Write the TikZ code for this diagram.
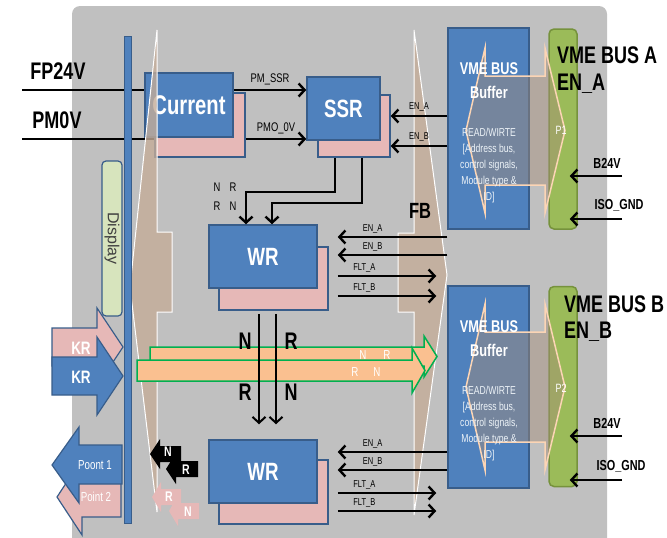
\documentclass[tikz,border=0pt]{standalone}
\usepackage{fontspec}
\setmainfont[FakeStretch=0.75]{Liberation Sans}
\newfontfamily\plainsans{Liberation Sans}
\usetikzlibrary{arrows.meta,calc,backgrounds}

\definecolor{bgGray}{RGB}{192,192,192}
\definecolor{boxBlue}{RGB}{79,129,189}
\definecolor{boxEdge}{RGB}{56,93,138}
\definecolor{shadePink}{RGB}{230,184,183}
\definecolor{busTan}{RGB}{196,172,152}
\definecolor{busShade}{RGB}{165,140,120}
\definecolor{peach}{RGB}{252,213,181}
\definecolor{barOrange}{RGB}{250,192,144}
\definecolor{barGreen}{RGB}{0,176,80}
\definecolor{dispGreen}{RGB}{215,228,189}
\definecolor{pGreen}{RGB}{155,187,89}
\definecolor{pEdge}{RGB}{118,146,60}

\newcommand\fsz[1]{\fontsize{#1}{#1}\selectfont}

\tikzset{
  blkbox/.style={fill=boxBlue, draw=boxEdge, line width=1.5pt, text=white, inner sep=0pt, font=\fsz{25}\bfseries},
  shadebox/.style={fill=shadePink, draw=boxEdge, line width=1.5pt, inner sep=0pt},
  pbox/.style={fill=pGreen, draw=pEdge, line width=1.5pt, rounded corners=5pt, minimum width=28pt, minimum height=200pt},
  dispbox/.style={fill=dispGreen, draw=boxEdge, line width=1.2pt, rounded corners=4pt, text=black!75, font=\plainsans\fsz{16}},
  busarrow/.style={draw=peach, line width=1.5pt, fill=busShade, fill opacity=0.45},
  tanshape/.style={draw=white, line width=1pt, fill=busTan, fill opacity=0.8},
  bar/.style={fill=barOrange, draw=barGreen, line width=1.5pt},
  bluearrow/.style={fill=boxBlue, draw=boxEdge, line width=1.2pt},
  pinkarrow/.style={fill=shadePink, draw=boxEdge, line width=1.2pt},
  wire/.style={line width=2.4pt},
  sig/.style={wire, -{Straight Barb[length=6pt,width=13pt]}},
  tag/.style={font=\fsz{10}, inner sep=1pt},
  midtag/.style={font=\fsz{12.5}, inner sep=1pt},
  bigtag/.style={font=\fsz{24}\bfseries, inner sep=0pt},
  titletag/.style={font=\fsz{24}\bfseries, inner sep=0pt},
  pintag/.style={font=\fsz{14.5}\bfseries, inner sep=0pt},
  whitetag/.style={text=white, inner sep=0pt},
  bustitle/.style={whitetag, align=center, font=\fontsize{17}{24}\selectfont\bfseries},
  busnote/.style={whitetag, text=white!90!boxBlue, align=center, font=\fontsize{11.5}{16}\selectfont}
}

\begin{document}
\begin{tikzpicture}[x=1pt,y=-1pt]
  \useasboundingbox (0,0) rectangle (667,538);

  % blocks
  \node[shadebox, minimum width=90pt, minimum height=64pt] (curs) at (200,125) {};
  \node[blkbox, minimum width=88pt, minimum height=64pt, font=\fsz{27}\bfseries] (cur) at (189,105) {Current};
  \node[shadebox, minimum width=72pt, minimum height=62pt] (ssrs) at (354,126) {};
  \node[blkbox, minimum width=73pt, minimum height=63pt] (ssr) at (343.5,108.5) {SSR};
  \node[shadebox, minimum width=109pt, minimum height=63pt] (wr1s) at (273.5,278.5) {};
  \node[blkbox, minimum width=108pt, minimum height=63pt] (wr1) at (263,256.5) {WR};
  \node[shadebox, minimum width=109pt, minimum height=64pt] (wr2s) at (273.5,492) {};
  \node[blkbox, minimum width=108pt, minimum height=63pt] (wr2) at (263,471.5) {WR};

  % VME buffers and connectors
  \node[blkbox, minimum width=81pt, minimum height=201pt] (bufA) at (488.5,128.5) {};
  \node[blkbox, minimum width=81pt, minimum height=202pt] (bufB) at (488.5,387) {};
  \node[pbox] (p1) at (563,129) {};
  \node[pbox] (p2) at (563,386.5) {};

  \coordinate (fp) at (22,90);
  \coordinate (pm) at (22,139);
  \begin{scope}[on background layer]
    \fill[bgGray, rounded corners=8pt] (72,6) rectangle (607,552);
    \draw[wire] (fp) -- (fp -| cur.west);
    \draw[wire] (pm) -- (pm -| curs.west);
  \end{scope}

  \draw[tanshape] (157,30) -- (130,287) -- (157,512) -- (157,312) -- (172,312) -- (172,232) -- (157,232) -- cycle;
  \draw[tanshape] (414,30) -- (447,275) -- (414,515) -- (414,312) -- (398,312) -- (398,233) -- (414,233) -- cycle;

  \draw[busarrow] (466,130.5) -- (485,48) -- (485,76) -- (545,76) -- (545,48) -- (565,130.5) -- (545,213) -- (545,185) -- (485,185) -- (485,213) -- cycle;
  \draw[busarrow] (466,387) -- (485,304) -- (485,332) -- (545,332) -- (545,304) -- (565,387) -- (545,470) -- (545,442) -- (485,442) -- (485,470) -- cycle;
  \node[whitetag, font=\fsz{12}] (p1t) at (561,130) {P1};
  \node[whitetag, font=\fsz{12}] (p2t) at (561,388) {P2};
  \node[bustitle] (bufAt) at (489,81) {VME BUS\\Buffer};
  \node[busnote] (bufAn) at (489,166) {READ/WIRTE\\{[}Address bus,\\control signals,\\Module type \&\\ID]};
  \node[bustitle] (bufBt) at (489,339) {VME BUS\\Buffer};
  \node[busnote] (bufBn) at (489,424) {READ/WIRTE\\{[}Address bus,\\control signals,\\Module type \&\\ID]};

  % signals
  \draw[sig] (fp -| cur.east) -- (fp -| ssr.west) node[midtag, midway, above=3pt] (pmssr) {PM\_SSR};
  \draw[sig] (pm -| curs.east) -- (pm -| ssr.west) node[midtag, midway, above=3pt] (pmov) {PMO\_0V};
  \draw[sig] (bufA.west |- 0,116) -- (ssrs.east |- 0,116) node[tag, midway, above=2pt] {EN\_A};
  \draw[sig] (bufA.west |- 0,146) -- (ssrs.east |- 0,146) node[tag, midway, above=2pt] {EN\_B};
  \draw[sig] ($(ssrs.south)+(-19,0)$) |- ($(wr1.north)+(-17,-32)$) -- ($(wr1.north)+(-17,0)$);
  \draw[sig] ($(ssrs.south)+(8,0)$) |- ($(wr1.north)+(9,-21)$) -- ($(wr1.north)+(9,0)$);
  \node[midtag] (nrU) at (225,187) {N\hspace{9pt}R};
  \node[midtag] (rnU) at (225,206) {R\hspace{9pt}N};

  \draw[sig, shorten >=9pt] (bufA.west |- 0,237) -- (wr1s.east |- 0,237) node[tag, pos=0.63, above=1pt] {EN\_A};
  \draw[sig, shorten >=9pt] (bufA.west |- 0,255) -- (wr1s.east |- 0,255) node[tag, pos=0.63, above=1pt] {EN\_B};
  \draw[sig, shorten <=9pt, shorten >=11pt] (wr1s.east |- 0,276) -- (bufA.west |- 0,276) node[tag, pos=0.3, above=1pt] {FLT\_A};
  \draw[sig, shorten <=9pt, shorten >=11pt] (wr1s.east |- 0,296) -- (bufB.west |- 0,296) node[tag, pos=0.3, above=1pt] {FLT\_B};
  \draw[sig, shorten >=9pt] (bufB.west |- 0,452) -- (wr2s.east |- 0,452) node[tag, pos=0.63, above=1pt] {EN\_A};
  \draw[sig, shorten >=9pt] (bufB.west |- 0,470) -- (wr2s.east |- 0,470) node[tag, pos=0.63, above=1pt] {EN\_B};
  \draw[sig, shorten <=9pt, shorten >=11pt] (wr2s.east |- 0,493) -- (bufB.west |- 0,493) node[tag, pos=0.3, above=1pt] {FLT\_A};
  \draw[sig, shorten <=9pt, shorten >=11pt] (wr2s.east |- 0,511) -- (bufB.west |- 0,511) node[tag, pos=0.3, above=1pt] {FLT\_B};

  \coordinate (b24a) at (622,176);
  \coordinate (isoa) at (622,219);
  \coordinate (b24b) at (622,436);
  \coordinate (isob) at (622,480);
  \draw[sig, shorten >=-8pt] (b24a) -- (b24a -| p1.east);
  \draw[sig, shorten >=-8pt] (isoa) -- (isoa -| p1.east);
  \draw[sig, shorten >=-8pt] (b24b) -- (b24b -| p2.east);
  \draw[sig, shorten >=-8pt] (isob) -- (isob -| p2.east);
  \node[pintag] (b24aT) at (607,163) {B24V};
  \node[pintag] (isoaT) at (619,205) {ISO\_GND};
  \node[pintag] (b24bT) at (607,423) {B24V};
  \node[pintag] (isobT) at (621,466) {ISO\_GND};

  % data bars
  \draw[bar] (150,347) -- (424,347) -- (424,336) -- (437,356.5) -- (424,377) -- (424,366) -- (150,366) -- cycle;
  \draw[bar] (137,360) -- (412,360) -- (412,348) -- (425,370.5) -- (412,393) -- (412,381) -- (137,381) -- cycle;
  \node[whitetag, font=\fsz{13}] (nrBar) at (375,355) {N\hspace{17pt}R};
  \node[whitetag, font=\fsz{13}] (rnBar) at (366,372) {R\hspace{15pt}N};

  \draw[sig, line width=2pt] ($(wr1.south)+(-4,25)$) -- ($(wr2.north)+(-4,-15)$);
  \draw[sig, line width=2pt] ($(wr1.south)+(13,25)$) -- ($(wr2.north)+(13,-15)$);
  \node[bigtag] (nV1) at (245,341) {N};
  \node[bigtag] (rV1) at (291,341) {R};
  \node[bigtag] (rV2) at (245,392) {R};
  \node[bigtag] (nV2) at (291,392) {N};

  % front panel
  \draw[fill=boxBlue, draw=boxEdge, line width=1pt] (124,36) rectangle (131,523);
  \node[dispbox, rotate=-90, minimum width=155pt, minimum height=20pt, inner sep=0pt] (disp) at (112,238.5) {Display};

  \draw[pinkarrow] (52,328) -- (97,328) -- (97,308) -- (123,347) -- (97,386) -- (97,366) -- (52,366) -- cycle;
  \draw[bluearrow] (52,357) -- (97,357) -- (97,337) -- (123,376) -- (97,415) -- (97,395) -- (52,395) -- cycle;
  \node[whitetag, font=\fsz{18}\bfseries] (krP) at (81,348) {KR};
  \node[whitetag, font=\fsz{18}\bfseries] (krB) at (81,377) {KR};

  \draw[pinkarrow] (121,478) -- (82,478) -- (82,459) -- (57,497) -- (82,535) -- (82,517) -- (121,517) -- cycle;
  \draw[bluearrow] (122,445) -- (79,445) -- (79,427) -- (52,465) -- (79,503) -- (79,484) -- (122,484) -- cycle;
  \node[whitetag, font=\fsz{13}] (pt1) at (95,465) {Poont 1};
  \node[whitetag, font=\fsz{13}] (pt2) at (96,497) {Point 2};

  \fill[black] (181,446) -- (160,446) -- (160,439) -- (150,454) -- (160,469) -- (160,462) -- (181,462) -- cycle;
  \fill[black] (198,461) -- (176,461) -- (176,453) -- (166,469) -- (176,484) -- (176,477) -- (198,477) -- cycle;
  \fill[shadePink] (181,489) -- (161,489) -- (161,482) -- (152,497) -- (161,512) -- (161,505) -- (181,505) -- cycle;
  \fill[shadePink] (199,503) -- (178,503) -- (178,495) -- (169,511) -- (178,526) -- (178,519) -- (199,519) -- cycle;
  \node[whitetag, font=\fsz{14}\bfseries] (nB) at (168,452) {N};
  \node[whitetag, font=\fsz{14}\bfseries] (rB) at (186,470) {R};
  \node[whitetag, font=\fsz{14}\bfseries] (rP) at (169,497) {R};
  \node[whitetag, font=\fsz{14}\bfseries] (nP) at (188,512) {N};

  % outer labels
  \node[bigtag] (fpT) at (58,71) {FP24V};
  \node[bigtag] (pmT) at (57,120) {PM0V};
  \node[titletag, anchor=base west] (busAT) at (557,63) {VME BUS A};
  \node[titletag, anchor=base west] (enAT) at (557,90) {EN\_A};
  \node[titletag, anchor=base west] (busBT) at (564,312) {VME BUS B};
  \node[titletag, anchor=base west] (enBT) at (564,338) {EN\_B};
  \node[bigtag, font=\fsz{22}\bfseries] (fbT) at (420,211) {FB};
\end{tikzpicture}
\end{document}
